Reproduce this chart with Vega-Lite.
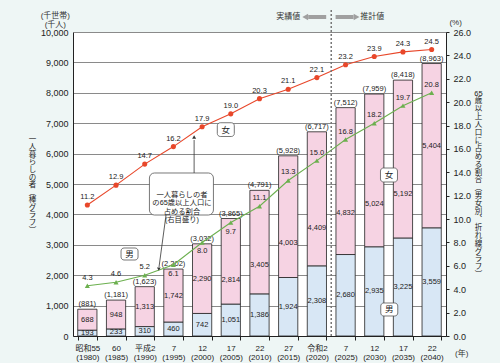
{
  "$schema": "https://vega.github.io/schema/vega-lite/v6.json",
  "width": 373,
  "height": 304,
  "autosize": {"type": "none"},
  "padding": {"left": 73, "top": 32, "right": 54, "bottom": 27},
  "background": "#eef6f5",
  "config": {
    "font": "Arial, 'Liberation Sans', 'Noto Sans CJK JP', sans-serif",
    "view": {"fill": "white", "stroke": null},
    "axisLeft": {"tickCount": 20, "labelOverlap": false, "grid": true, "gridColor": "#8a8a8a", "gridWidth": 1.2, "ticks": false, "domainColor": "#222", "labelFontSize": 9, "labelPadding": 5, "labelColor": "#222", "format": ",.0f"},
    "axisRight": {"tickCount": 26, "labelOverlap": false, "grid": false, "domainColor": "#222", "tickColor": "#222", "tickSize": 3, "labelFontSize": 9, "labelPadding": 4, "labelColor": "#222"},
    "axisBottom": {"labelOverlap": false, "grid": false, "labelAngle": 0, "labelFontSize": 8, "labelLineHeight": 9, "labelPadding": 4, "labelColor": "#222", "ticks": true, "tickBand": "extent", "tickSize": 4, "tickColor": "#222", "domainColor": "#222"}
  },
  "datasets": {
    "main": [
      {"year": "1980", "male": 193, "female": 688, "total": 881, "malePct": 4.3, "femalePct": 11.2},
      {"year": "1985", "male": 233, "female": 948, "total": 1181, "malePct": 4.6, "femalePct": 12.9},
      {"year": "1990", "male": 310, "female": 1313, "total": 1623, "malePct": 5.2, "femalePct": 14.7},
      {"year": "1995", "male": 460, "female": 1742, "total": 2202, "malePct": 6.1, "femalePct": 16.2},
      {"year": "2000", "male": 742, "female": 2290, "total": 3032, "malePct": 8.0, "femalePct": 17.9},
      {"year": "2005", "male": 1051, "female": 2814, "total": 3865, "malePct": 9.7, "femalePct": 19.0},
      {"year": "2010", "male": 1386, "female": 3405, "total": 4791, "malePct": 11.1, "femalePct": 20.3},
      {"year": "2015", "male": 1924, "female": 4003, "total": 5928, "malePct": 13.3, "femalePct": 21.1},
      {"year": "2020", "male": 2308, "female": 4409, "total": 6717, "malePct": 15.0, "femalePct": 22.1},
      {"year": "2025", "male": 2680, "female": 4832, "total": 7512, "malePct": 16.8, "femalePct": 23.2},
      {"year": "2030", "male": 2935, "female": 5024, "total": 7959, "malePct": 18.2, "femalePct": 23.9},
      {"year": "2035", "male": 3225, "female": 5192, "total": 8418, "malePct": 19.7, "femalePct": 24.3},
      {"year": "2040", "male": 3559, "female": 5404, "total": 8963, "malePct": 20.8, "femalePct": 24.5}
    ]
  },
  "data": {"name": "main"},
  "resolve": {"scale": {"y": "independent", "color": "independent", "shape": "independent"}},
  "layer": [
    {
      "transform": [{"fold": ["male", "female"], "as": ["sex", "value"]}],
      "layer": [
        {
          "mark": {"type": "bar", "stroke": "#222", "strokeWidth": 0.8},
          "encoding": {
            "x": {
              "field": "year", "type": "ordinal",
              "scale": {"type": "band", "paddingInner": 0.33, "paddingOuter": 0.165},
              "axis": {
                "labelExpr": "{'1980':'昭和55','1985':'60','1990':'平成2','1995':'7','2000':'12','2005':'17','2010':'22','2015':'27','2020':'令和2','2025':'7','2030':'12','2035':'17','2040':'22'}[datum.value] ? [{'1980':'昭和55','1985':'60','1990':'平成2','1995':'7','2000':'12','2005':'17','2010':'22','2015':'27','2020':'令和2','2025':'7','2030':'12','2035':'17','2040':'22'}[datum.value], '(' + datum.value + ')'] : ''",
                "title": null, "labelOverlap": false
              }
            },
            "y": {
              "field": "value", "type": "quantitative", "stack": "zero",
              "scale": {"domain": [0, 10000], "nice": false},
              "axis": {
                "values": [0,500,1000,1500,2000,2500,3000,3500,4000,4500,5000,5500,6000,6500,7000,7500,8000,8500,9000,9500,10000],
                "format": ",.0f", "grid": true, "labelOverlap": false,
                "title": ["一","人","暮","ら","し","の","者","︵","棒","グ","ラ","フ","︶"],
                "titleAngle": 0, "titleX": -41, "titleY": 103, "titleAlign": "center",
                "titleBaseline": "top", "titleFontSize": 7.5, "titleLineHeight": 7.6,
                "titleFontWeight": "normal", "titleColor": "#222"
              }
            },
            "color": {
              "field": "sex", "type": "nominal",
              "scale": {"domain": ["male", "female"], "range": ["#d8e7f5", "#f6d3e3"]},
              "legend": null
            },
            "order": {"field": "sex", "sort": "descending"}
          }
        },
        {
          "mark": {"type": "text", "fontSize": 7.5, "color": "#222"},
          "encoding": {
            "x": {"field": "year", "type": "ordinal"},
            "y": {"field": "value", "type": "quantitative", "stack": "zero", "bandPosition": 0.5},
            "detail": {"field": "sex"},
            "order": {"field": "sex", "sort": "descending"},
            "text": {
              "condition": {"test": "datum.sex == 'male' || datum.year < '2005' || datum.year > '2035'", "field": "value", "format": ","},
              "value": ""
            }
          }
        },
        {
          "mark": {"type": "text", "fontSize": 7.5, "color": "#222"},
          "encoding": {
            "x": {"field": "year", "type": "ordinal"},
            "y": {"field": "value", "type": "quantitative", "stack": "zero", "bandPosition": 0.28},
            "detail": {"field": "sex"},
            "order": {"field": "sex", "sort": "descending"},
            "text": {
              "condition": {"test": "datum.sex == 'female' && datum.year >= '2005' && datum.year <= '2035'", "field": "value", "format": ","},
              "value": ""
            }
          }
        },
        {
          "transform": [
            {"filter": "datum.sex == 'female'"},
            {"calculate": "'(' + format(datum.total, ',') + ')'", "as": "totalLabel"}
          ],
          "mark": {"type": "text", "fontSize": 7.5, "color": "#222", "baseline": "bottom", "dy": -1},
          "encoding": {
            "x": {"field": "year", "type": "ordinal"},
            "y": {"field": "total", "type": "quantitative"},
            "text": {"field": "totalLabel"}
          }
        }
      ]
    },
    {
      "transform": [{"fold": ["femalePct", "malePct"], "as": ["sex", "pct"]}],
      "layer": [
        {
          "mark": {"type": "line", "strokeWidth": 1.1},
          "encoding": {
            "x": {"field": "year", "type": "ordinal"},
            "y": {
              "field": "pct", "type": "quantitative",
              "scale": {"domain": [0, 26], "nice": false},
              "axis": {
                "orient": "right",
                "values": [0,1,2,3,4,5,6,7,8,9,10,11,12,13,14,15,16,17,18,19,20,21,22,23,24,25,26],
                "labelExpr": "datum.value % 2 == 0 ? format(datum.value, '.1f') : ''",
                "grid": false, "labelOverlap": false,
                "title": ["65","歳","以","上","人","口","に","占","め","る","割","合","︵","男","女","別","︑","折","れ","線","グ","ラ","フ","︶"],
                "titleAngle": 0, "titleX": 32, "titleY": 57, "titleAlign": "center",
                "titleBaseline": "top", "titleFontSize": 7.5, "titleLineHeight": 7.9,
                "titleFontWeight": "normal", "titleColor": "#222"
              }
            },
            "color": {
              "field": "sex", "type": "nominal",
              "scale": {"domain": ["femalePct", "malePct"], "range": ["#e8472a", "#6cb04f"]},
              "legend": null
            }
          }
        },
        {
          "mark": {"type": "point", "filled": true, "size": 26, "opacity": 1},
          "encoding": {
            "x": {"field": "year", "type": "ordinal"},
            "y": {"field": "pct", "type": "quantitative"},
            "color": {"field": "sex", "type": "nominal", "legend": null},
            "shape": {
              "field": "sex", "type": "nominal",
              "scale": {"domain": ["femalePct", "malePct"], "range": ["circle", "triangle-up"]},
              "legend": null
            }
          }
        },
        {
          "transform": [{"filter": "!(datum.sex == 'malePct' && datum.year >= '1995' && datum.year <= '2005')"}],
          "mark": {"type": "text", "fontSize": 7.5, "color": "#222", "dy": -8},
          "encoding": {
            "x": {"field": "year", "type": "ordinal"},
            "y": {"field": "pct", "type": "quantitative"},
            "text": {"field": "pct", "format": ".1f"}
          }
        },
        {
          "transform": [{"filter": "datum.sex == 'malePct' && datum.year >= '1995' && datum.year <= '2005'"}],
          "mark": {"type": "text", "fontSize": 7.5, "color": "#222", "dy": 9},
          "encoding": {
            "x": {"field": "year", "type": "ordinal"},
            "y": {"field": "pct", "type": "quantitative"},
            "text": {"field": "pct", "format": ".1f"}
          }
        }
      ]
    },
    {
      "data": {"values": [{}]},
      "layer": [
        {
          "mark": {"type": "rule", "color": "#777", "strokeWidth": 1.5, "strokeDash": [2, 2], "xOffset": 14.35},
          "encoding": {
            "x": {"datum": "2020", "type": "ordinal"},
            "y": {"datum": 10724, "type": "quantitative", "scale": {"domain": [0, 10000], "nice": false}, "axis": null},
            "y2": {"datum": 0}
          }
        },
        {
          "mark": {"type": "text", "fontSize": 8, "color": "#333", "text": "実績値"},
          "encoding": {
            "x": {"datum": "2015", "type": "ordinal"},
            "y": {"datum": 10493, "type": "quantitative", "axis": null}
          }
        },
        {
          "mark": {"type": "text", "fontSize": 8, "color": "#333", "text": "推計値", "dx": -2},
          "encoding": {
            "x": {"datum": "2030", "type": "ordinal"},
            "y": {"datum": 10493, "type": "quantitative", "axis": null}
          }
        },
        {
          "mark": {"type": "rule", "color": "#a0a0a0", "strokeWidth": 4, "xOffset": 20, "x2Offset": 38},
          "encoding": {
            "x": {"datum": "2015", "type": "ordinal"},
            "x2": {"datum": "2015"},
            "y": {"datum": 10493, "type": "quantitative", "axis": null}
          }
        },
        {
          "mark": {"type": "point", "shape": "triangle-left", "filled": true, "color": "#a0a0a0", "size": 45, "opacity": 1, "xOffset": 17},
          "encoding": {
            "x": {"datum": "2015", "type": "ordinal"},
            "y": {"datum": 10493, "type": "quantitative", "axis": null}
          }
        },
        {
          "mark": {"type": "rule", "color": "#a0a0a0", "strokeWidth": 4, "xOffset": -10, "x2Offset": 8},
          "encoding": {
            "x": {"datum": "2025", "type": "ordinal"},
            "x2": {"datum": "2025"},
            "y": {"datum": 10493, "type": "quantitative", "axis": null}
          }
        },
        {
          "mark": {"type": "point", "shape": "triangle-right", "filled": true, "color": "#a0a0a0", "size": 45, "opacity": 1, "xOffset": 11},
          "encoding": {
            "x": {"datum": "2025", "type": "ordinal"},
            "y": {"datum": 10493, "type": "quantitative", "axis": null}
          }
        },
        {
          "mark": {"type": "text", "fontSize": 8, "color": "#333", "text": ["(千世帯)", "(千人)"], "lineHeight": 9, "baseline": "middle", "dx": -32},
          "encoding": {
            "x": {"datum": "1980", "type": "ordinal"},
            "y": {"datum": 10530, "type": "quantitative", "axis": null}
          }
        },
        {
          "mark": {"type": "text", "fontSize": 8, "color": "#333", "text": "(%)", "dx": 24},
          "encoding": {
            "x": {"datum": "2040", "type": "ordinal"},
            "y": {"datum": 10296, "type": "quantitative", "axis": null}
          }
        },
        {
          "mark": {"type": "text", "fontSize": 8, "color": "#333", "text": "(年)", "dx": 30},
          "encoding": {
            "x": {"datum": "2040", "type": "ordinal"},
            "y": {"datum": -592, "type": "quantitative", "axis": null}
          }
        },
        {
          "mark": {"type": "bar", "fill": "white", "stroke": "#555", "strokeWidth": 0.8, "cornerRadius": 5, "width": 64, "xOffset": 8},
          "encoding": {
            "x": {"datum": "1995", "type": "ordinal"},
            "y": {"datum": 5362, "type": "quantitative", "axis": null},
            "y2": {"datum": 3980}
          }
        },
        {
          "mark": {"type": "text", "fontSize": 7.3, "color": "#222", "text": ["一人暮らしの者", "の65歳以上人口に", "占める割合", "(右目盛り)"], "lineHeight": 8.6, "baseline": "middle", "dx": 8.5},
          "encoding": {
            "x": {"datum": "1995", "type": "ordinal"},
            "y": {"datum": 4651, "type": "quantitative", "axis": null}
          }
        },
        {
          "mark": {"type": "rule", "color": "#333", "strokeWidth": 0.8, "xOffset": -8},
          "encoding": {
            "x": {"datum": "2000", "type": "ordinal"},
            "y": {"datum": 5362, "type": "quantitative", "axis": null},
            "y2": {"datum": 6447}
          }
        },
        {
          "mark": {"type": "point", "shape": "triangle-up", "filled": true, "color": "#333", "size": 16, "opacity": 1, "xOffset": -8},
          "encoding": {
            "x": {"datum": "2000", "type": "ordinal"},
            "y": {"datum": 6546, "type": "quantitative", "axis": null}
          }
        },
        {
          "mark": {"type": "rule", "color": "#333", "strokeWidth": 0.8, "xOffset": -7.4, "x2Offset": -14.4},
          "encoding": {
            "x": {"datum": "1995", "type": "ordinal"},
            "x2": {"datum": "1995"},
            "y": {"datum": 3980, "type": "quantitative", "axis": null},
            "y2": {"datum": 2270}
          }
        },
        {
          "mark": {"type": "point", "shape": "triangle-down", "filled": true, "color": "#333", "size": 14, "opacity": 1, "xOffset": -14.6},
          "encoding": {
            "x": {"datum": "1995", "type": "ordinal"},
            "y": {"datum": 2200, "type": "quantitative", "axis": null}
          }
        },
        {
          "mark": {"type": "bar", "fill": "white", "stroke": "#555", "strokeWidth": 0.8, "cornerRadius": 3, "width": 17, "xOffset": -5},
          "encoding": {
            "x": {"datum": "2005", "type": "ordinal"},
            "y": {"datum": 7015, "type": "quantitative", "axis": null},
            "y2": {"datum": 6563}
          }
        },
        {
          "mark": {"type": "text", "fontSize": 8.5, "color": "#222", "text": "女", "baseline": "middle", "dx": -5},
          "encoding": {
            "x": {"datum": "2005", "type": "ordinal"},
            "y": {"datum": 6789, "type": "quantitative", "axis": null}
          }
        },
        {
          "mark": {"type": "bar", "fill": "white", "stroke": "#555", "strokeWidth": 0.8, "cornerRadius": 3, "width": 17, "xOffset": 14.7},
          "encoding": {
            "x": {"datum": "2030", "type": "ordinal"},
            "y": {"datum": 5526, "type": "quantitative", "axis": null},
            "y2": {"datum": 5066}
          }
        },
        {
          "mark": {"type": "text", "fontSize": 8.5, "color": "#222", "text": "女", "baseline": "middle", "dx": 14.7},
          "encoding": {
            "x": {"datum": "2030", "type": "ordinal"},
            "y": {"datum": 5296, "type": "quantitative", "axis": null}
          }
        },
        {
          "mark": {"type": "bar", "fill": "white", "stroke": "#555", "strokeWidth": 0.8, "cornerRadius": 3, "width": 17, "xOffset": 13.5},
          "encoding": {
            "x": {"datum": "1985", "type": "ordinal"},
            "y": {"datum": 2895, "type": "quantitative", "axis": null},
            "y2": {"datum": 2500}
          }
        },
        {
          "mark": {"type": "text", "fontSize": 8.5, "color": "#222", "text": "男", "baseline": "middle", "dx": 13.5},
          "encoding": {
            "x": {"datum": "1985", "type": "ordinal"},
            "y": {"datum": 2697, "type": "quantitative", "axis": null}
          }
        },
        {
          "mark": {"type": "bar", "fill": "white", "stroke": "#555", "strokeWidth": 0.8, "cornerRadius": 3, "width": 17, "xOffset": 15},
          "encoding": {
            "x": {"datum": "2030", "type": "ordinal"},
            "y": {"datum": 1086, "type": "quantitative", "axis": null},
            "y2": {"datum": 658}
          }
        },
        {
          "mark": {"type": "text", "fontSize": 8.5, "color": "#222", "text": "男", "baseline": "middle", "dx": 15},
          "encoding": {
            "x": {"datum": "2030", "type": "ordinal"},
            "y": {"datum": 872, "type": "quantitative", "axis": null}
          }
        }
      ]
    }
  ]
}
